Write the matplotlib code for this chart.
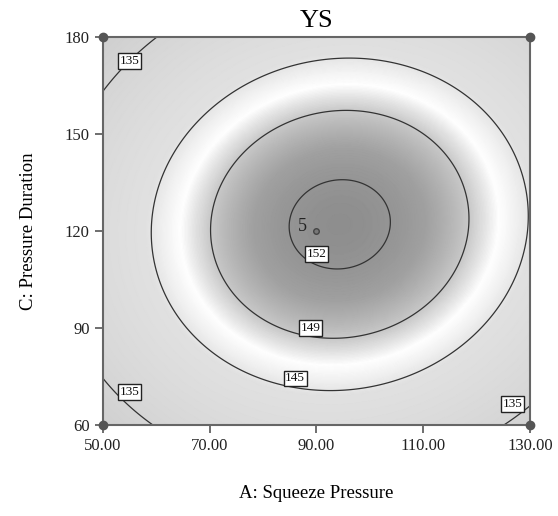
import numpy as np
import matplotlib
matplotlib.use("Agg")
import matplotlib.pyplot as plt
from matplotlib.colors import LinearSegmentedColormap

# 응답면 회귀계수 (coded units: A=(x-90)/40, C=(y-120)/60)
coef_b0 = 152.42
coef_bA = 2.08
coef_bC = 0.60
coef_bAC = 1.0
coef_bAA = -9.7
coef_bCC = -10.3

a_range = [50.0, 130.0]
c_range = [60.0, 180.0]
contour_levels = [135, 145, 149, 152]
label_vals = [135, 135, 135, 145, 149, 152]
label_a = [55.0, 55.0, 126.8, 86.0, 88.9, 90.0]
label_c = [172.6, 70.2, 66.5, 74.5, 90.0, 112.9]

design_a = [50, 50, 130, 130]
design_c = [60, 180, 60, 180]
center_pt = (90, 120)
center_reps = "5"

xticks = [50, 70, 90, 110, 130]
yticks = [60, 90, 120, 150, 180]

plt.rcParams["font.family"] = ["Liberation Serif", "DejaVu Serif"]

A = np.linspace(a_range[0], a_range[1], 400)
C = np.linspace(c_range[0], c_range[1], 400)
AA, CC = np.meshgrid(A, C)
xa = (AA - 90) / 40
xc = (CC - 120) / 60
Y = (coef_b0 + coef_bA * xa + coef_bC * xc + coef_bAC * xa * xc
     + coef_bAA * xa ** 2 + coef_bCC * xc ** 2)

# 그레이 음영: 낮음=연회색, 147 부근=흰색, 중심=진회색
vmin, vmax = 128.0, 153.0
stops = [(128, 0.80), (138, 0.85), (144.5, 0.88), (147.2, 1.0), (149, 0.79), (151, 0.63), (153, 0.54)]
cmap = LinearSegmentedColormap.from_list(
    "ys", [((v - vmin) / (vmax - vmin), (g, g, g)) for v, g in stops])

fig = plt.figure(figsize=(5.58, 5.16), dpi=100)
ax = fig.add_axes([0.1846, 0.1763, 0.7652, 0.752])
ax.pcolormesh(AA, CC, Y, cmap=cmap, vmin=vmin, vmax=vmax, shading="gouraud")
ax.contour(AA, CC, Y, levels=contour_levels, colors="#333333", linewidths=0.9)
for v, a, c in zip(label_vals, label_a, label_c):
    ax.text(a, c, str(v), fontsize=9.5, color="#111111", ha="center", va="center", zorder=4,
            bbox=dict(boxstyle="square,pad=0.12", facecolor="white", edgecolor="#222222",
                      linewidth=1.0))

ax.plot(design_a, design_c, "o", color="#555555", markersize=6, clip_on=False, zorder=5)
ax.plot(*center_pt, "o", color="#777777", markeredgecolor="#444444", markersize=4, zorder=5)
ax.annotate(center_reps, center_pt, xytext=(-10, 3), textcoords="offset points",
            fontsize=13, color="#222222", va="center", ha="center")

ax.set_xlim(a_range)
ax.set_ylim(c_range)
ax.set_xticks(xticks)
ax.set_xticklabels([f"{v:.2f}" for v in xticks])
ax.set_yticks(yticks)
ax.tick_params(direction="out", length=6, width=1.2, color="#555555", labelsize=12,
               labelcolor="#222222")
for s in ax.spines.values():
    s.set_color("#666666")
    s.set_linewidth(1.5)

ax.set_title("YS", fontsize=19, pad=7)
ax.set_xlabel("A: Squeeze Pressure", fontsize=13.5, labelpad=22)
ax.set_ylabel("C: Pressure Duration", fontsize=13.5, labelpad=20)

fig.savefig("out.png", dpi=100)
